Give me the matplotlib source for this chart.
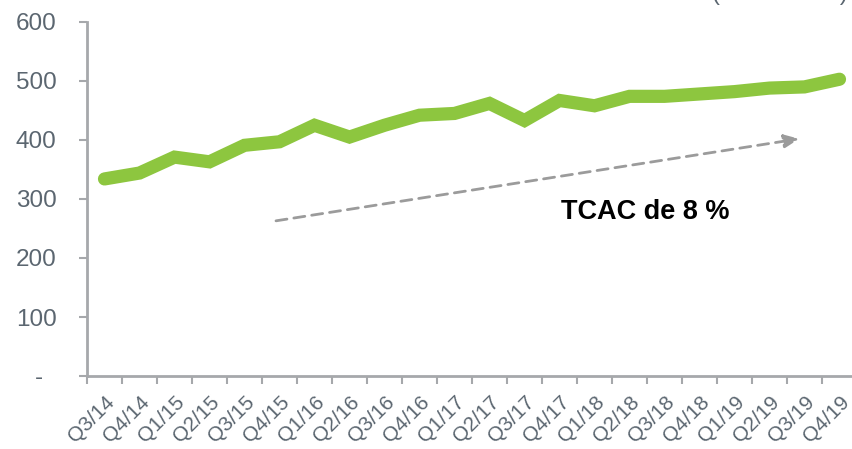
import matplotlib
matplotlib.use('Agg')
import matplotlib.pyplot as plt
import numpy as np

plt.rcParams['font.family'] = ['Liberation Sans', 'DejaVu Sans']

# ─── Data ───
quarters = ['Q3/14', 'Q4/14', 'Q1/15', 'Q2/15', 'Q3/15', 'Q4/15', 'Q1/16', 'Q2/16',
            'Q3/16', 'Q4/16', 'Q1/17', 'Q2/17', 'Q3/17', 'Q4/17', 'Q1/18', 'Q2/18',
            'Q3/18', 'Q4/18', 'Q1/19', 'Q2/19', 'Q3/19', 'Q4/19']
values = [334, 344, 371, 363, 391, 397, 425, 405, 425, 442, 445, 462,
          433, 467, 458, 474, 474, 478, 482, 488, 490, 503]
yticks = [0, 100, 200, 300, 400, 500, 600]
ytick_labels = ['-  ', '100', '200', '300', '400', '500', '600']

# trend arrow (start/end in data coords) and label
trend_start = (4.9, 263)
trend_end = (19.85, 402)
trend_label = 'TCAC de 8 %'

GREEN = '#8DC63F'
AXIS_GREY = '#A6A8AB'
TEXT_GREY = '#5B6670'

fig = plt.figure(figsize=(8.52, 4.49), dpi=100)
ax = fig.add_axes([87/852, 73/449, 770/852, 354/449])

x = np.arange(len(quarters))
ax.plot(x, values, color=GREEN, linewidth=9.5, solid_capstyle='round',
        solid_joinstyle='miter', zorder=3)

ax.set_xlim(-0.5, len(quarters) - 0.5)
ax.set_ylim(0, 600)

# y axis
ax.set_yticks(yticks)
ax.set_yticklabels(ytick_labels, fontsize=17.5, color=TEXT_GREY)
ax.tick_params(axis='y', length=6, width=1.5, color=AXIS_GREY, pad=16)

# x axis: labels at centers, tick marks at boundaries
ax.set_xticks(x)
ax.set_xticklabels(quarters, rotation=45, ha='right', rotation_mode='anchor',
                   fontsize=15, color=TEXT_GREY)
ax.tick_params(axis='x', which='major', length=0, pad=12)
ax.set_xticks(np.arange(-0.5, len(quarters) - 0.4, 1), minor=True)
ax.tick_params(axis='x', which='minor', length=6, width=1.5, color=AXIS_GREY)

for side in ['top', 'right']:
    ax.spines[side].set_visible(False)
for side in ['left', 'bottom']:
    ax.spines[side].set_color(AXIS_GREY)
    ax.spines[side].set_linewidth(2)

# dashed trend arrow
ax.annotate('', xy=trend_end, xytext=trend_start,
            arrowprops=dict(arrowstyle='-|>,head_length=0.9,head_width=0.4',
                            color='#9B9B9B', lw=2, linestyle=(0, (4, 2.5)),
                            shrinkA=0, shrinkB=0))
ax.text(15.45, 278, trend_label, fontsize=19.5, fontweight='bold',
        color='black', ha='center', va='center')

# cut-off unit label at the top right
fig.text(848/852, 1.0, '(en millones)', fontsize=17, color=TEXT_GREY,
         ha='right', va='baseline')

fig.savefig('out.png', dpi=100)
plt.close(fig)
